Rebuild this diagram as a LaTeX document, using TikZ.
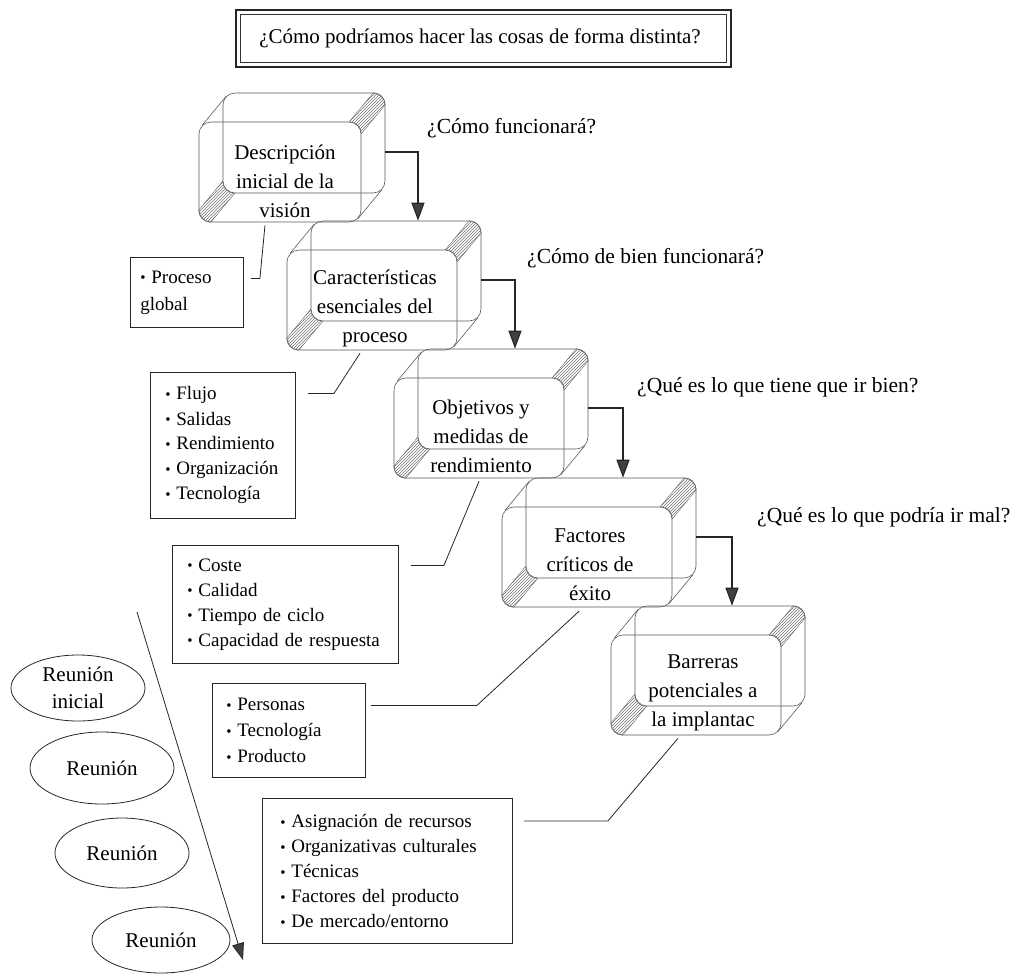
\documentclass[tikz,border=0pt]{standalone}
\usepackage{fontspec}
\setmainfont{Liberation Serif}
\usetikzlibrary{calc,patterns,arrows.meta,shapes.geometric}
\newcommand\bul{\raisebox{0.05ex}{\fontsize{15}{15}\selectfont\textbullet}\hspace{0.3em}}
\newcommand\bevel[1]{%
 \path[band] ($(#1.north east)+(-12,0)$) .. controls +(6.6,0) and +(0,-6.6) .. ($(#1.north east)+(0,12)$) -- ($(#1.north east)+(24,-17)$) .. controls +(0,-6.6) and +(6.6,0) .. ($(#1.north east)+(12,-29)$) -- cycle;
 \path[band] ($(#1.south west)+(0,-12)$) .. controls +(0,6.6) and +(-6.6,0) .. ($(#1.south west)+(12,0)$) -- ($(#1.south west)+(36,-29)$) .. controls +(-6.6,0) and +(0,6.6) .. ($(#1.south west)+(24,-41)$) -- cycle;
 \draw[edge] ($(#1.north west)+(3.5,3.5)$) -- ($(#1.north west)+(27.5,-25.5)$);
 \draw[edge] ($(#1.south east)+(-3.5,-3.5)$) -- ($(#1.south east)+(20.5,-32.5)$);
}
\begin{document}
\begin{tikzpicture}[x=1pt,y=-1pt,
  line/.style={draw=black!85, line width=0.8pt},
  edge/.style={draw=black!65, line width=0.6pt},
  face/.style={draw=black!65, line width=0.6pt, rounded corners=12pt, minimum width=170pt, minimum height=100pt, inner sep=0pt},
  boxtext/.style={align=center, font=\fontsize{21}{29}\selectfont, inner sep=0pt},
  listbox/.style={draw=black!85, line width=0.9pt, align=left, anchor=north west, inner ysep=0pt, font=\fontsize{19}{25}\selectfont},
  flow/.style={draw=black!85, line width=1.1pt, -{Triangle[length=18pt,width=13pt,fill=black!75]}},
  ask/.style={font=\fontsize{21.5}{25}\selectfont, anchor=west, inner sep=0pt},
  meet/.style={draw=black!85, line width=0.8pt, ellipse, inner sep=0pt, align=center, font=\fontsize{21}{27}\selectfont},
  band/.style={draw=black!60, line width=0.4pt, pattern=north east lines, pattern color=black!55}
]
\useasboundingbox (0,0) rectangle (1017,975);

% title
\node[draw=black!85, line width=1.6pt, minimum width=495pt, minimum height=57pt, inner sep=0pt] (title) at (483.5,38.5) {};
\draw[black!80, line width=0.6pt] ($(title.north west)+(5.5,5.5)$) rectangle ($(title.south east)+(-5.5,-5.5)$);
\node[font=\fontsize{21}{25}\selectfont, inner sep=0pt] (titlet) at (480,38) {¿Cómo podríamos hacer las cosas de forma distinta?};

% 3D boxes
\node[face, minimum width=162pt] (b1) at (280,172) {};
\node[face, minimum width=162pt] (b1back) at ($(b1)+(24,-29)$) {};
\bevel{b1}
\node[boxtext] (b1t) at ($(b1)+(5,9)$) {Descripción\\inicial de la\\visión};

\node[face] (b2) at (372,300) {};
\node[face] (b2back) at ($(b2)+(24,-29)$) {};
\bevel{b2}
\node[boxtext] (b2t) at ($(b2)+(3,8)$) {Características\\esenciales del\\proceso};

\node[face] (b3) at (479,428) {};
\node[face] (b3back) at ($(b3)+(24,-29)$) {};
\bevel{b3}
\node[boxtext] (b3t) at ($(b3)+(2,8)$) {Objetivos y\\medidas de\\rendimiento};

\node[face] (b4) at (587,557) {};
\node[face] (b4back) at ($(b4)+(24,-29)$) {};
\bevel{b4}
\node[boxtext] (b4t) at ($(b4)+(3,8)$) {Factores\\críticos de\\éxito};

\node[face] (b5) at (696,685) {};
\node[face] (b5back) at ($(b5)+(24,-29)$) {};
\bevel{b5}
\node[boxtext] (b5t) at ($(b5)+(7,8)$) {Barreras\\potenciales a\\la implantac};

% flow arrows
\draw[flow] ($(b1back.east)+(0,9)$) -| ($(b2back.north)+(22,0)$);
\draw[flow] ($(b2back.east)+(0,9)$) -| ($(b3back.north)+(12,0)$);
\draw[flow] ($(b3back.east)+(0,9)$) -| ($(b4back.north)+(12,0)$);
\draw[flow] ($(b4back.east)+(0,9)$) -| ($(b5back.north)+(12,0)$);

% questions
\node[ask] (q1) at (427,128) {¿Cómo funcionará?};
\node[ask] (q2) at (527,258) {¿Cómo de bien funcionará?};
\node[ask] (q3) at (637,387) {¿Qué es lo que tiene que ir bien?};
\node[ask] (q4) at (757,517) {¿Qué es lo que podría ir mal?};

% lists
\node[listbox, text width=93pt, inner xsep=10pt, minimum height=70pt, font=\fontsize{19}{27}\selectfont] (l1) at (130,257) {\bul Proceso\\global};
\node[listbox, text width=115pt, inner xsep=15pt, minimum height=146pt] (l2) at (150,372) {\bul Flujo\\\bul Salidas\\\bul Rendimiento\\\bul Organización\\\bul Tecnología};
\node[listbox, text width=196pt, inner xsep=15pt, minimum height=118pt] (l3) at (172,545) {\bul Coste\\\bul Calidad\\\bul Tiempo de ciclo\\\bul Capacidad de respuesta};
\node[listbox, text width=125pt, inner xsep=14pt, minimum height=94pt, font=\fontsize{19}{26}\selectfont] (l4) at (212,683) {\bul Personas\\\bul Tecnología\\\bul Producto};
\node[listbox, text width=214pt, inner xsep=18pt, minimum height=145pt] (l5) at (262,798) {\bul Asignación de recursos\\\bul Organizativas culturales\\\bul Técnicas\\\bul Factores del producto\\\bul De mercado/entorno};

% list connectors
\draw[line] ($(b1.south)+(-15,3)$) -- ($(l1.east)+(16,-14)$) -- ($(l1.east)+(7,-14)$);
\draw[line] ($(b2.south)+(-12,3)$) -- ($(l2.east)+(38,-52)$) -- ($(l2.east)+(12,-52)$);
\draw[line] ($(b3.south)+(0,3)$) -- ($(l3.east)+(45,-39)$) -- ($(l3.east)+(12,-39)$);
\draw[line] ($(b4.south)+(-8,4)$) -- ($(l4.east)+(111,-25)$) -- ($(l4.east)+(5,-25)$);
\draw[line] ($(b5.south)+(-18,3)$) -- ($(l5.east)+(95,-50)$) -- ($(l5.east)+(11,-50)$);

% meetings
\node[meet, minimum width=134pt, minimum height=66pt] (e1) at (78,688) {Reunión\\inicial};
\node[meet, minimum width=144pt, minimum height=72pt] (e2) at (102,768) {Reunión};
\node[meet, minimum width=134pt, minimum height=70pt] (e3) at (122,853) {Reunión};
\node[meet, minimum width=138pt, minimum height=66pt] (e4) at (161,940) {Reunión};
\coordinate (ts) at (137,612);
\coordinate (te) at (243,960);
\draw[line, -{Triangle[length=17pt,width=12pt,fill=black!75]}] (ts) -- (te);
\end{tikzpicture}
\end{document}
